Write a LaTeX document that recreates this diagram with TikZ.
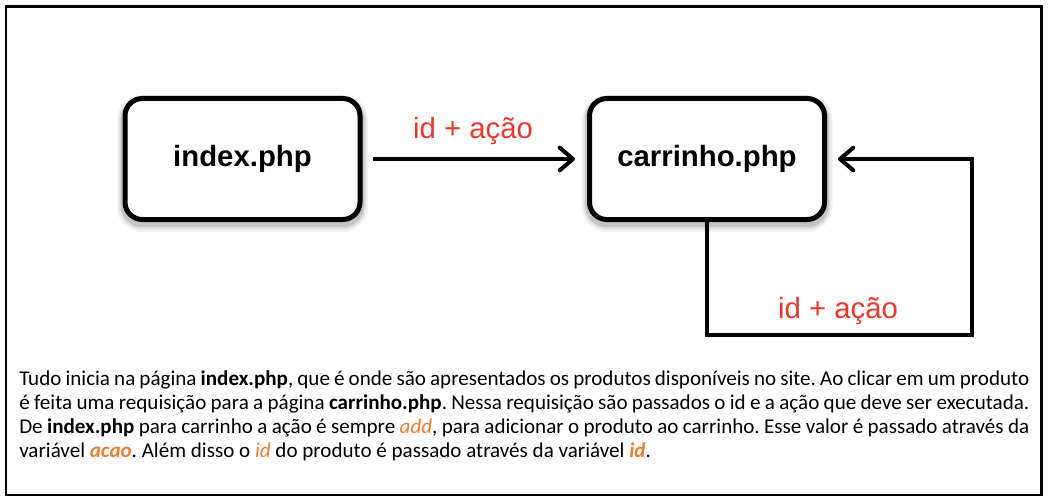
\documentclass[tikz,border=0pt]{standalone}
\usepackage{fontspec}
\setmainfont{Carlito}
\newfontfamily\hel{Liberation Sans}
\usetikzlibrary{arrows.meta}
\frenchspacing
\definecolor{lblred}{RGB}{232,56,42}
\definecolor{orng}{RGB}{237,125,49}
\tikzset{
  pagebox/.style={draw=black, fill=white, line width=3.75pt, rounded corners=13pt,
    minimum width=176.25pt, minimum height=90.75pt, inner sep=0pt,
    font=\hel\bfseries\fontsize{22pt}{26pt}\selectfont,
    preaction={draw=black, opacity=0.05, line width=12pt, transform canvas={yshift=-3.5pt}},
    preaction={draw=black, opacity=0.08, line width=9pt, transform canvas={yshift=-3pt}},
    preaction={draw=black, opacity=0.12, line width=6.5pt, transform canvas={yshift=-2.5pt}}},
  conn/.style={line width=3pt, -{Straight Barb[length=10pt,width=17pt,round]}},
  lbl/.style={text=lblred, font=\hel\fontsize{22pt}{26pt}\selectfont, inner sep=0pt, anchor=base},
  para/.style={anchor=base west, inner sep=0pt, font=\fontsize{15.8pt}{18pt}\selectfont}
}
\begin{document}
\begin{tikzpicture}[x=0.75pt,y=-0.75pt]
\useasboundingbox (0,0) rectangle (1048,499);
\draw[line width=1.6pt] (6,6.5) rectangle (1041.5,495);
\node[pagebox] (idx) at (242.5,159) {index.php};
\node[pagebox] (car) at (707,159) {carrinho.php};
\draw[conn, shorten <=7.5pt, shorten >=9pt] (idx.east) -- (car.west);
\node[lbl] (l1) at (473,138) {id + ação};
\coordinate (c2) at (972,335);
\draw[conn, shorten >=8.25pt] (car.south) |- (c2) |- (car.east);
\node[lbl] (l2) at (838,318) {id + ação};
\node[para] (p1) at (19,385) {\makebox[757.5pt][s]{Tudo inicia na página \textbf{index.php}, que é onde são apresentados os produtos disponíveis no site. Ao clicar em um produto}};
\node[para] (p2) at (19,409) {\makebox[757.5pt][s]{é feita uma requisição para a página \textbf{carrinho.php}. Nessa requisição são passados o id e a ação que deve ser executada.}};
\node[para] (p3) at (19,433) {\makebox[757.5pt][s]{De \textbf{index.php} para carrinho a ação é sempre \textcolor{orng}{\textit{add}}, para adicionar o produto ao carrinho. Esse valor é passado através da}};
\node[para] (p4) at (19,457) {variável \textcolor{orng}{\textbf{\textit{acao}}}. Além disso o \textcolor{orng}{\textit{id}} do produto é passado através da variável \textcolor{orng}{\textbf{\textit{id}}}.};
\end{tikzpicture}
\end{document}
